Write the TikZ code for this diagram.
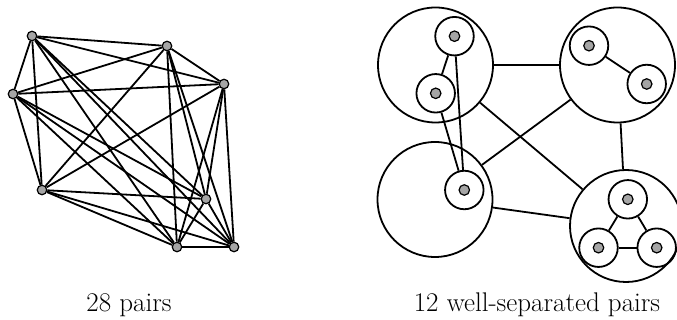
\documentclass[tikz,border=0pt]{standalone}
\begin{document}
\begin{tikzpicture}[x=1pt,y=-1pt,
  lw/.style={line width=1.8pt},
  dot/.style={circle,draw,line width=1.2pt,fill=dotgray,inner sep=0pt,minimum size=9.5pt},
  big/.style={circle,draw,lw,inner sep=0pt,minimum size=115pt},
  small/.style={circle,draw,lw,inner sep=0pt,minimum size=38.5pt},
  edge/.style={lw},
  lbl/.style={anchor=base,inner sep=0pt,font=\fontsize{27}{32}\selectfont}]
\definecolor{dotgray}{RGB}{165,165,165}
\useasboundingbox (0,0) rectangle (677,320);
% left: complete graph on 8 points
\node[dot] (p1) at (32,36) {};
\node[dot] (p2) at (167,46) {};
\node[dot] (p3) at (224,84) {};
\node[dot] (p4) at (13,94) {};
\node[dot] (p5) at (42,190) {};
\node[dot] (p6) at (206,199) {};
\node[dot] (p7) at (177,247) {};
\node[dot] (p8) at (234,247) {};
\foreach \i in {1,...,7}{
  \pgfmathtruncatemacro\k{\i+1}
  \foreach \j in {\k,...,8}{\draw[edge] (p\i) -- (p\j);}
}
% right: well-separated pairs
\node[big] (tl) at (435.5,65) {};
\node[big] (tr) at (617.5,65) {};
\node[big] (bl) at (435,199.5) {};
\node[big,minimum size=112pt] (br) at (626,226) {};
\node[small] (s1) at (454.5,36.2) {};
\node[small] (s2) at (435.7,93.3) {};
\node[small] (s3) at (589,45.7) {};
\node[small] (s4) at (646.7,84) {};
\node[small] (s5) at (464.3,190) {};
\node[small] (s6) at (627.8,199.3) {};
\node[small] (s7) at (598.5,247.7) {};
\node[small] (s8) at (656.7,247.7) {};
\foreach \s in {1,...,8}{\node[dot,minimum size=10.5pt] (d\s) at (s\s) {};}
\draw[edge] (tl) -- (tr);
\draw[edge] (tl) -- (br);
\draw[edge] (bl) -- (tr);
\draw[edge] (bl) -- (br);
\draw[edge] (tr) -- (br);
\draw[edge] (s1) -- (s2);
\draw[edge] (s1) -- (s5);
\draw[edge] (s2) -- (s5);
\draw[edge] (s3) -- (s4);
\draw[edge] (s6) -- (s7);
\draw[edge] (s6) -- (s8);
\draw[edge] (s7) -- (s8);
% labels
\node[lbl] (t1) at (129,311) {28 pairs};
\node[lbl] (t2) at (537,311) {12 well-separated pairs};
\end{tikzpicture}
\end{document}
